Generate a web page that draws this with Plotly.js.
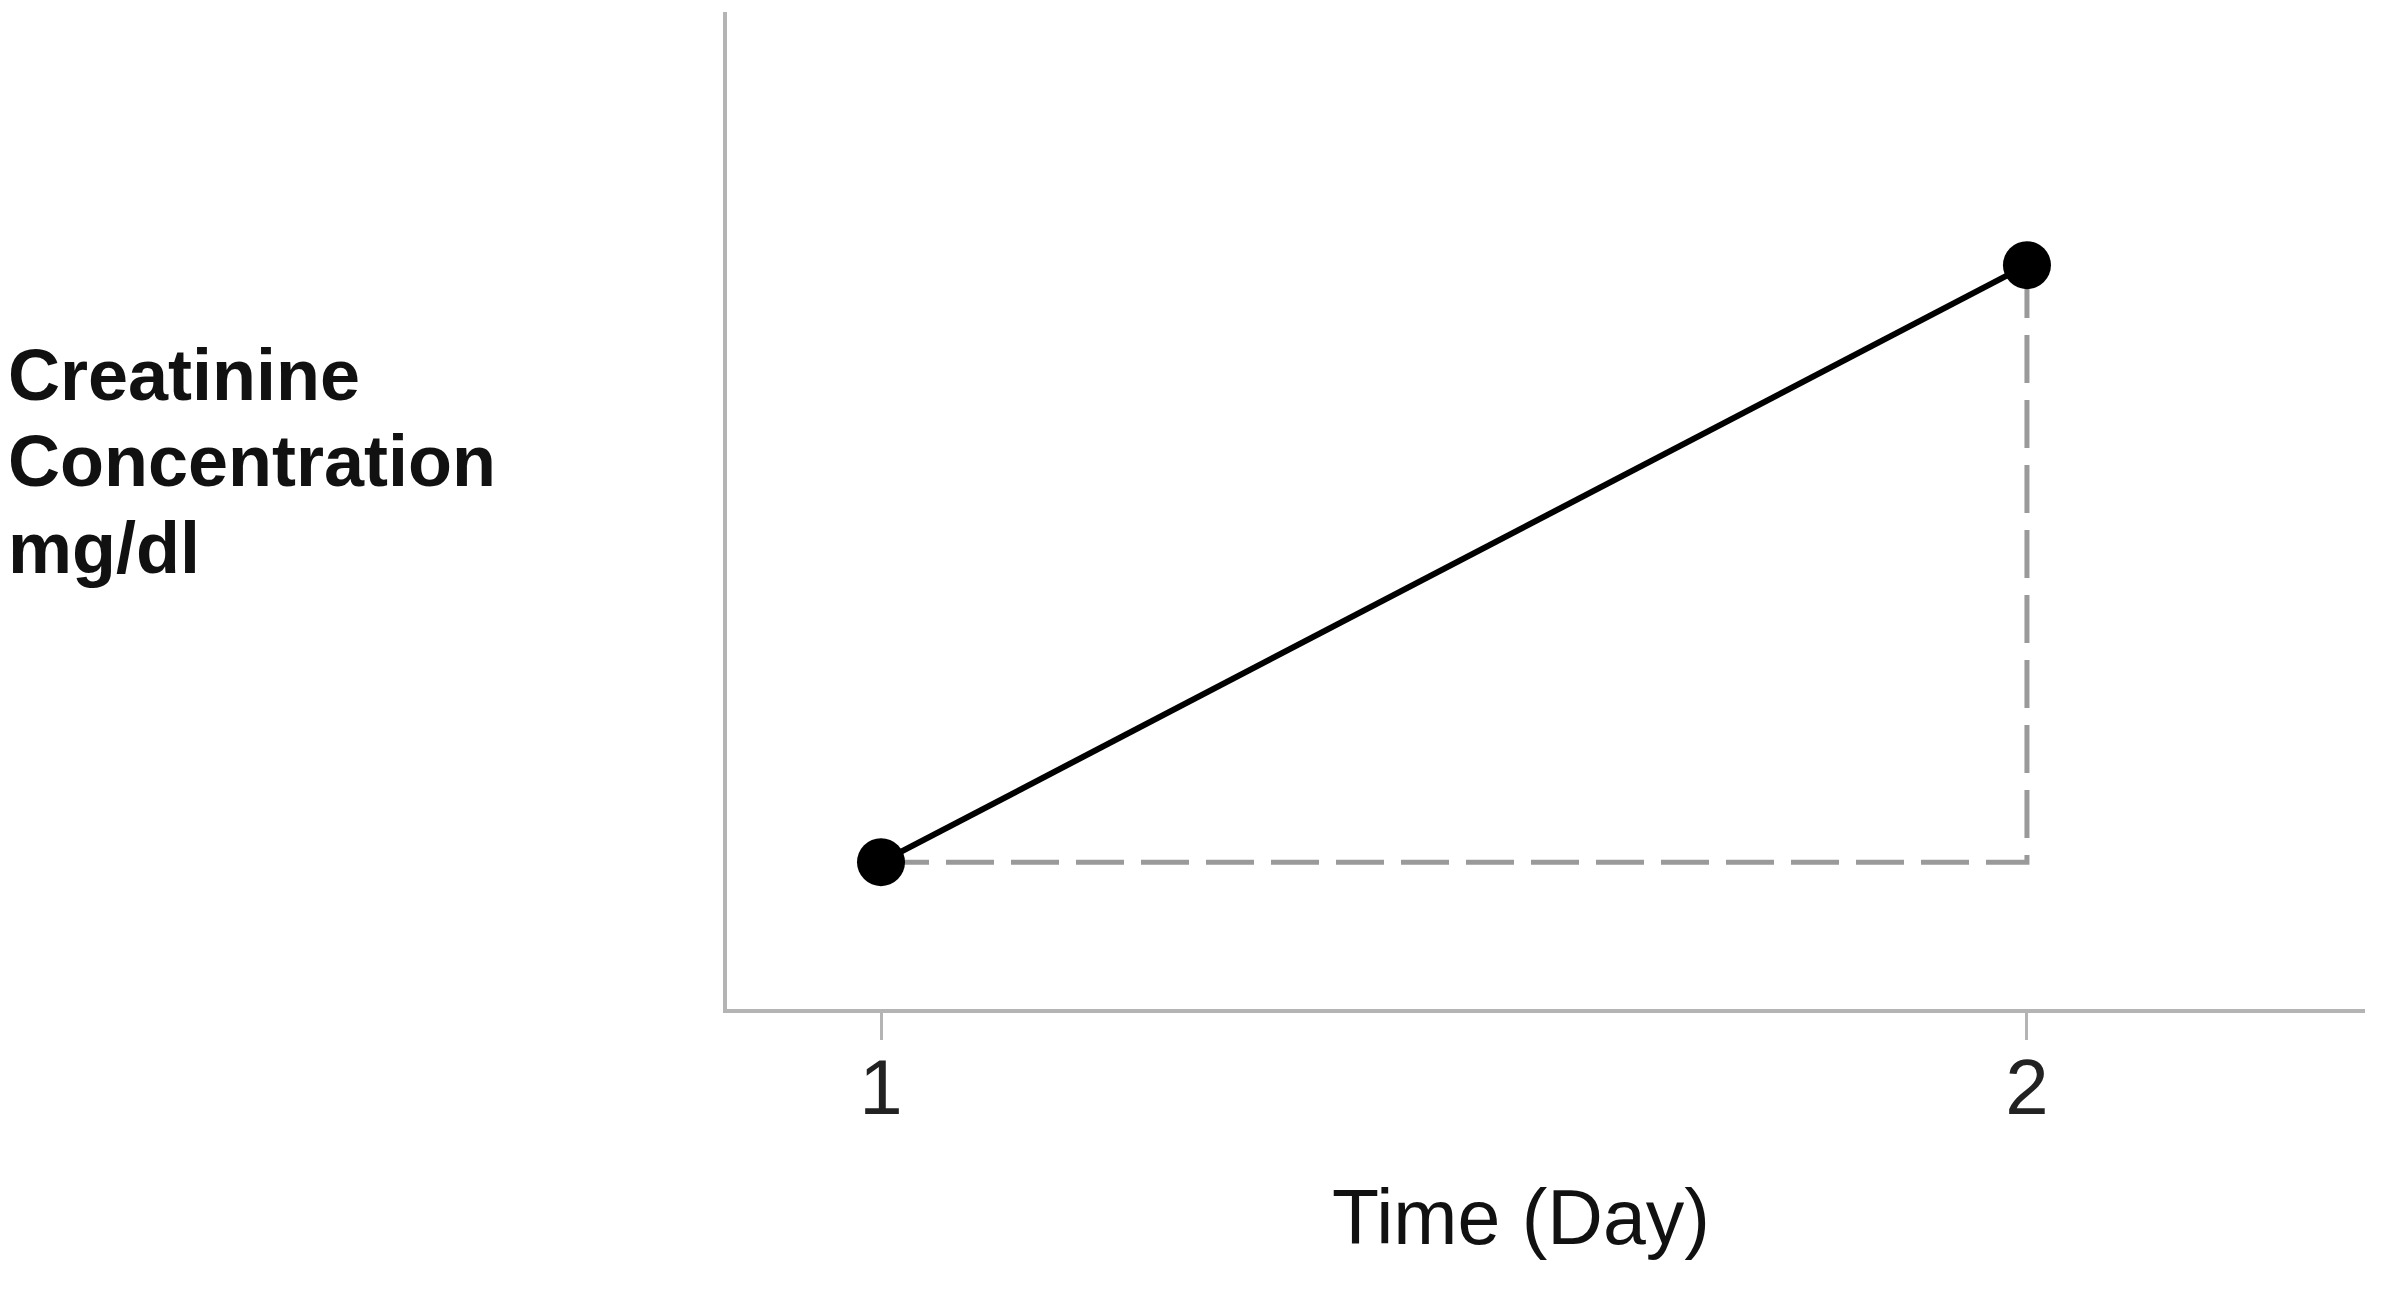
<!DOCTYPE html>
<html>
<head>
<meta charset="utf-8">
<script src="https://cdn.plot.ly/plotly-3.0.1.min.js"></script>
<style>
  html, body { margin: 0; padding: 0; background: #fff; }
  #chart { width: 2400px; height: 1289px; }
</style>
</head>
<body>
<div id="chart"></div>
<script>
// creatinine rise from day 1 to day 2
const days = [1, 2];
const creatinine = [1.0, 2.0];
const dayTicks = ['1', '2'];
const yTitleLines = ['Creatinine', 'Concentration', 'mg/dl'];

// guide lines: baseline of day 1 carried across, then up to day 2
const guideX = [days[0], days[1], days[1]];
const guideY = [creatinine[0], creatinine[0], creatinine[1]];

const AXIS_GREY = '#b4b4b4';
const FONT = 'Liberation Sans, Arial, sans-serif';

// plot area in px, used to place the free-standing titles
const PLOT = { l: 727, r: 2365, t: 12, b: 1009 };
const pw = PLOT.r - PLOT.l;
const ph = PLOT.b - PLOT.t;
const px = x => (x - PLOT.l) / pw;
const py = y => (PLOT.b - y) / ph;

const yTitle = yTitleLines.map((line, i) => ({
  xref: 'paper', yref: 'paper',
  x: px(6), y: py(375 + i * 86.5),
  xanchor: 'left', yanchor: 'middle',
  showarrow: false,
  text: '<b>' + line + '</b>',
  font: { family: FONT, size: 72, color: '#111' },
}));

Plotly.newPlot('chart', [
  {
    type: 'scatter',
    mode: 'lines',
    x: guideX,
    y: guideY,
    line: { color: '#9a9a9a', width: 5, dash: '48px,17px' },
    hoverinfo: 'skip',
  },
  {
    type: 'scatter',
    mode: 'lines+markers',
    x: days,
    y: creatinine,
    line: { color: '#000', width: 6 },
    marker: { color: '#000', size: 48 },
  },
], {
  width: 2400,
  height: 1289,
  paper_bgcolor: '#fff',
  plot_bgcolor: '#fff',
  showlegend: false,
  margin: { l: 727, r: 35, t: 12, b: 280 },
  font: { family: FONT, color: '#222' },
  xaxis: {
    range: [0.8656, 2.295],
    tickvals: days,
    ticktext: dayTicks,
    ticks: 'outside',
    ticklen: 27,
    tickwidth: 3,
    tickcolor: AXIS_GREY,
    tickfont: { size: 78, color: '#222' },
    ticklabelstandoff: -20,
    showline: true,
    linecolor: AXIS_GREY,
    linewidth: 4,
    showgrid: false,
    zeroline: false,
  },
  yaxis: {
    range: [0.754, 2.424],
    showticklabels: false,
    ticks: '',
    showline: true,
    linecolor: AXIS_GREY,
    linewidth: 4,
    showgrid: false,
    zeroline: false,
  },
  annotations: [
    ...yTitle,
    {
      xref: 'paper', yref: 'paper',
      x: px(1521), y: py(1217),
      xanchor: 'center', yanchor: 'middle',
      showarrow: false,
      text: 'Time (Day)',
      font: { family: FONT, size: 77, color: '#111' },
    },
  ],
}, { staticPlot: true });
</script>
</body>
</html>
